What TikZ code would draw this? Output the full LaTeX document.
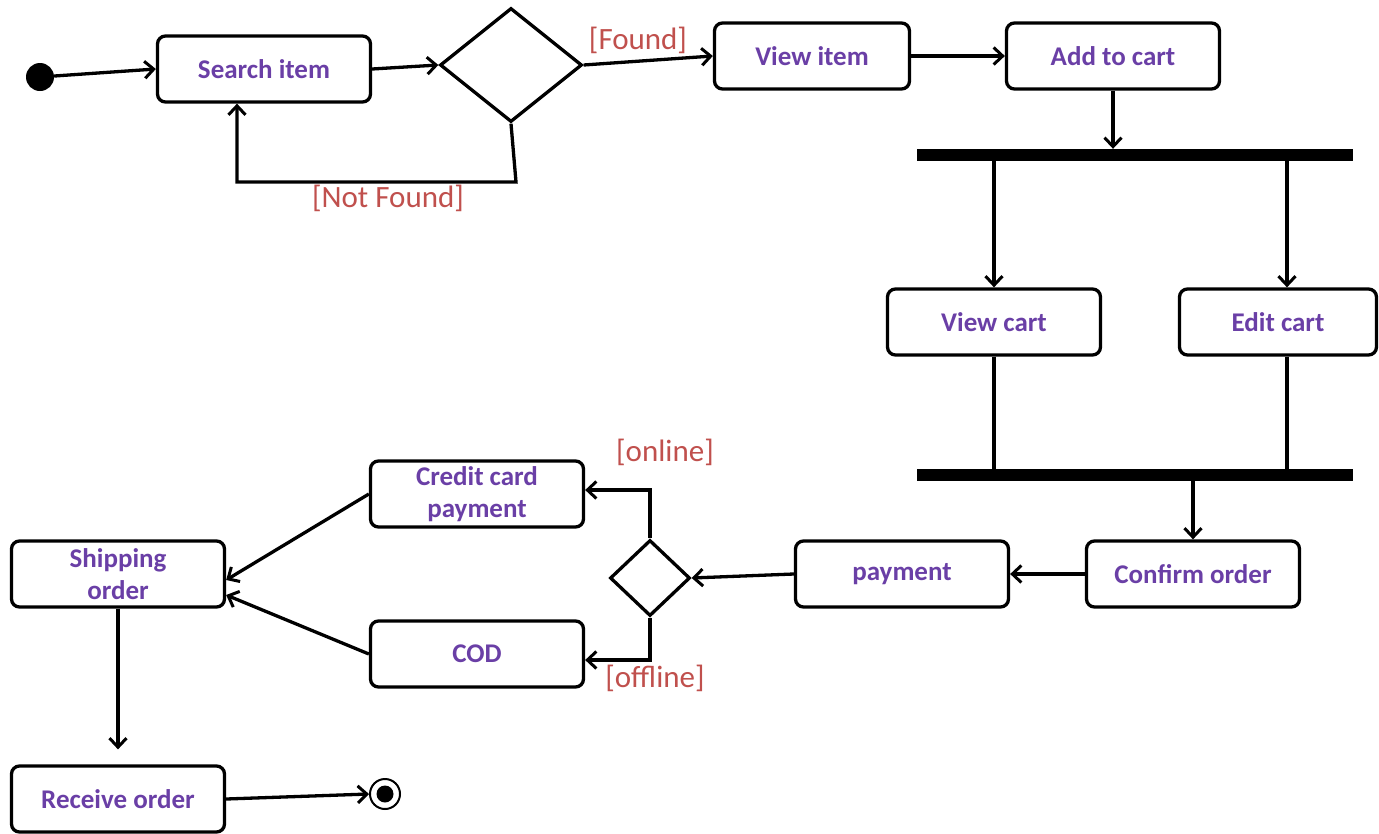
\documentclass[tikz,border=0pt]{standalone}
\usepackage{fontspec}
\setmainfont{Carlito}
\usetikzlibrary{arrows.meta,shapes.geometric}
\definecolor{actpurple}{HTML}{6A3FA6}
\definecolor{guardred}{HTML}{C0504D}
\begin{document}
\begin{tikzpicture}[x=1pt,y=-1pt,
  actbox/.style={draw, line width=3.3pt, rounded corners=8pt, minimum width=213pt,
    minimum height=66pt, inner sep=2pt, align=center, text=actpurple,
    font=\bfseries\fontsize{27}{32}\selectfont},
  decision/.style={draw, diamond, line width=3.3pt, inner sep=0pt},
  bar/.style={fill=black, inner sep=0pt, minimum width=436pt, minimum height=12pt},
  guard/.style={text=guardred, font=\fontsize{31}{34}\selectfont, inner sep=0pt},
  flow/.style={line width=3.3pt, -{Straight Barb[length=9pt,width=17pt,line width=3pt]}},
  plain/.style={line width=3.3pt}]
\useasboundingbox (0,0) rectangle (1379,833);

% activities
\node[actbox] (search)  at (264,69)  {Search item};
\node[actbox, minimum width=195pt] (view) at (812,56) {View item};
\node[actbox] (add)     at (1113,56) {Add to cart};
\node[actbox] (vcart)   at (994,322) {View cart};
\node[actbox, minimum width=197pt] (ecart) at (1278,322) {Edit cart};
\node[actbox] (confirm) at (1193,574) {Confirm order};
\node[actbox] (pay)     at (902,574) {payment};
\node[actbox] (credit)  at (477,494) {Credit card\\payment};
\node[actbox] (cod)     at (477,654) {COD};
\node[actbox] (ship)    at (118,574) {Shipping\\order};
\node[actbox] (recv)    at (118,799) {Receive order};

% start / end
\node[circle, fill=black, minimum size=28pt, inner sep=0pt] (start) at (40,77) {};
\node[circle, draw, line width=2pt, minimum size=30pt, inner sep=0pt] (stop) at (385,794) {};
\node[circle, fill=black, minimum size=17pt, inner sep=0pt] (stopin) at (stop) {};

% decisions
\node[decision, minimum width=142pt, minimum height=114pt] (d1) at (511,65) {};
\node[decision, minimum width=80pt, minimum height=76pt] (d2) at (650,578) {};

% fork / join bars
\node[bar] (fork) at (1135,155) {};
\node[bar] (join) at (1135,475) {};

% guards
\node[guard] (lfound)   at (638,40)  {[Found]};
\node[guard] (lnot)     at (388,198) {[Not Found]};
\node[guard] (lonline)  at (665,452) {[online]};
\node[guard] (loffline) at (655,678) {[offline]};

% helper corners
\coordinate (nf1) at (516,182);
\coordinate (nf2) at (237,182);
\coordinate (efk) at (1287,161);
\coordinate (on)  at (650,490);
\coordinate (off) at (650,660);

% flows
\draw[flow] (start) -- (search.west);
\draw[flow] (search.east) -- (d1.west);
\draw[flow] (d1.east) -- (view.west);
\draw[flow] (d1.south) -- (nf1) -- (nf2) -- (search.south -| nf2);
\draw[flow] (view.east) -- (add.west);
\draw[flow] (add.south) -- (add.south |- fork.north);
\draw[flow] (vcart.north |- fork.south) -- (vcart.north);
\draw[flow] (efk) -- (efk |- ecart.north);
\draw[plain] (vcart.south) -- (vcart.south |- join.north);
\draw[plain] (ecart.south -| efk) -- (efk |- join.north);
\draw[flow] (confirm.north |- join.south) -- (confirm.north);
\draw[flow] (confirm.west) -- (pay.east);
\draw[flow] (pay.west) -- (d2.east);
\draw[flow] (d2.north) -- (on) -- (on -| credit.east);
\draw[flow] (d2.south) -- (off) -- (off -| cod.east);
\draw[flow] (credit.west) -- ([yshift=-6pt]ship.east);
\draw[flow] (cod.west) -- ([yshift=-21pt]ship.east);
\draw[flow] (ship.south) -- ([yshift=15pt]recv.north);
\draw[flow] (recv.east) -- (stop.west);
\end{tikzpicture}
\end{document}
